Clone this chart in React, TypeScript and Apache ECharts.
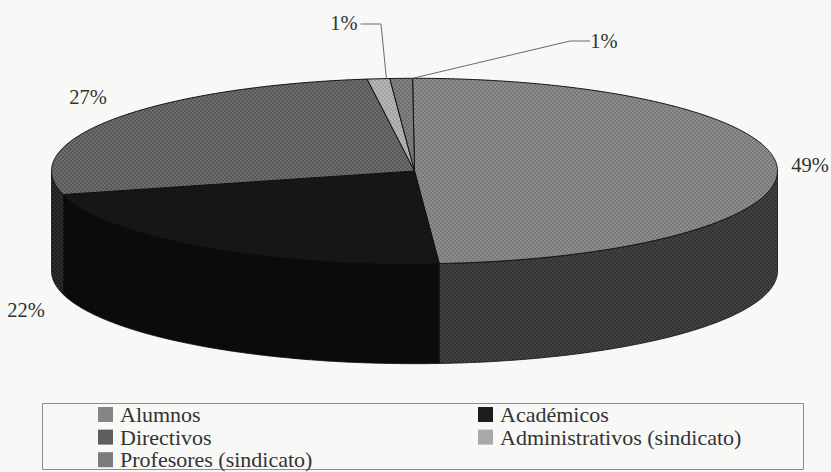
import React, { useEffect, useRef } from "react";
import * as echarts from "echarts";

// Composition of the body, in percent, clockwise from the top of the disc.
const sectors = ["Alumnos", "Académicos", "Directivos", "Administrativos (sindicato)", "Profesores (sindicato)"];
const shares = [49, 22, 27, 1, 1];

const legendLeft = ["Alumnos", "Directivos", "Profesores (sindicato)"];
const legendRight = ["Académicos", "Administrativos (sindicato)"];

const topColors = ["#7f7f7f", "#161616", "#5f5f5f", "#a9a9a9", "#757575"];
const wallColors = ["#383838", "#0b0b0b", "#232323", "#808080", "#555555"];
const legendColors = ["#858585", "#1d1d1d", "#5e5e5e", "#a8a8a8", "#7c7c7c"];

const FONT = "'Liberation Serif', serif";
const INK = "#333333";

// Disc geometry in pixels.
const CX = 414.5;
const CY = 171;
const RX = 363;
const RY = 92.7;
const DEPTH = 100;
const START_DEG = -0.3;

const rimPoint = (deg: number, dy = 0): number[] => {
  const a = (deg * Math.PI) / 180;
  return [CX + RX * Math.sin(a), CY - RY * Math.cos(a) + dy];
};

const arcPoints = (from: number, to: number, dy = 0): number[][] => {
  const steps = Math.max(2, Math.ceil(Math.abs(to - from) * 2));
  const pts: number[][] = [];
  for (let i = 0; i <= steps; i++) pts.push(rimPoint(from + ((to - from) * i) / steps, dy));
  return pts;
};

// Where each percentage sits, with the elbow of its leader line where it has one
// and how far along the sector's rim that line lands.
const labelSpots: { x: number; y: number; elbow?: number[][]; along?: number }[] = [
  { x: 810, y: 165 },
  { x: 26, y: 310 },
  { x: 88, y: 97 },
  { x: 344, y: 23, elbow: [[360.5, 24], [381, 24]], along: 0.85 },
  { x: 604, y: 41, elbow: [[590, 41], [570, 41]], along: 1 },
];

const sectorSpan = (index: number, total: number): number[] => {
  let before = 0;
  for (let i = 0; i < index; i++) before += shares[i];
  const from = START_DEG + (before / total) * 360;
  return [from, from + (shares[index] / total) * 360];
};

// Printed halftone: staggered lighter dots on a slightly darker ground.
const shift = (hex: number, d: number) => Math.max(0, Math.min(255, hex + d));
const halftone = (color: string, amount: number): any => {
  const v = parseInt(color.slice(1, 3), 16);
  const tile = document.createElement("canvas");
  tile.width = 4;
  tile.height = 4;
  const ctx = tile.getContext("2d")!;
  const low = shift(v, -Math.round(amount * 0.5));
  const high = shift(v, amount);
  ctx.fillStyle = `rgb(${low},${low},${low})`;
  ctx.fillRect(0, 0, 4, 4);
  ctx.fillStyle = `rgb(${high},${high},${high})`;
  ctx.fillRect(0, 0, 2, 2);
  ctx.fillRect(2, 2, 2, 2);
  return { image: tile, repeat: "repeat" };
};

const buildOption = () => {
  const total = shares.reduce((a, b) => a + b, 0);
  const series = sectors.map((name, index) => ({
    type: "custom",
    name,
    coordinateSystem: "none",
    silent: true,
    itemStyle: { color: legendColors[index] },
    data: [shares[index]],
    renderItem: (_params: unknown, api: any) => {
      const value = api.value(0);
      const [from, to] = sectorSpan(index, total);
      const children: any[] = [];

      // The front of the cylinder is visible between 90 and 270 degrees.
      const wallFrom = Math.max(from, 90);
      const wallTo = Math.min(to, 270);
      if (wallTo > wallFrom) {
        children.push({
          type: "polygon",
          shape: { points: [...arcPoints(wallFrom, wallTo), ...arcPoints(wallTo, wallFrom, DEPTH)] },
          style: { fill: index === 1 ? wallColors[index] : halftone(wallColors[index], 10), stroke: "#0c0c0c", lineWidth: 0.8 },
        });
      }

      children.push({
        type: "polygon",
        shape: { points: [[CX, CY], ...arcPoints(from, to)] },
        style: { fill: index === 1 ? topColors[index] : halftone(topColors[index], 14), stroke: "#111111", lineWidth: 1 },
      });

      const spot = labelSpots[index];
      if (spot.elbow) {
        const anchor = rimPoint(from + (to - from) * (spot.along ?? 0.5));
        children.push({
          type: "polyline",
          shape: { points: [...spot.elbow, anchor] },
          style: { fill: "none", stroke: "#6a6a6a", lineWidth: 1 },
        });
      }
      children.push({
        type: "text",
        style: {
          x: spot.x,
          y: spot.y,
          text: `${value}%`,
          fill: INK,
          font: `20.5px ${FONT}`,
          align: "center",
          verticalAlign: "middle",
        },
      });
      return { type: "group", children };
    },
  }));

  const legendBase = {
    orient: "vertical",
    icon: "rect",
    itemWidth: 15,
    itemHeight: 15,
    itemGap: 0.6,
    height: 120,
    selectedMode: false,
    padding: 0,
    textStyle: { fontFamily: FONT, fontSize: 22, lineHeight: 21, color: INK, padding: [0, 0, 0, 2] },
  };

  return {
    animation: false,
    backgroundColor: "#f8f8f6",
    legend: [
      { ...legendBase, left: 98, top: 403.5, data: legendLeft },
      { ...legendBase, left: 478, top: 403.5, data: legendRight },
    ],
    graphic: [
      {
        type: "rect",
        silent: true,
        shape: { x: 42.5, y: 403.5, width: 761, height: 66 },
        style: { fill: "none", stroke: "#8c8c8c", lineWidth: 1 },
      },
    ],
    series,
  };
};

export default function App() {
  const ref = useRef<HTMLDivElement>(null);
  useEffect(() => {
    const chart = echarts.init(ref.current!, undefined, { renderer: "svg" });
    chart.setOption(buildOption() as any);
    return () => chart.dispose();
  }, []);
  return <div ref={ref} style={{ position: "absolute", left: 0, top: 0, width: 831, height: 472 }} />;
}
